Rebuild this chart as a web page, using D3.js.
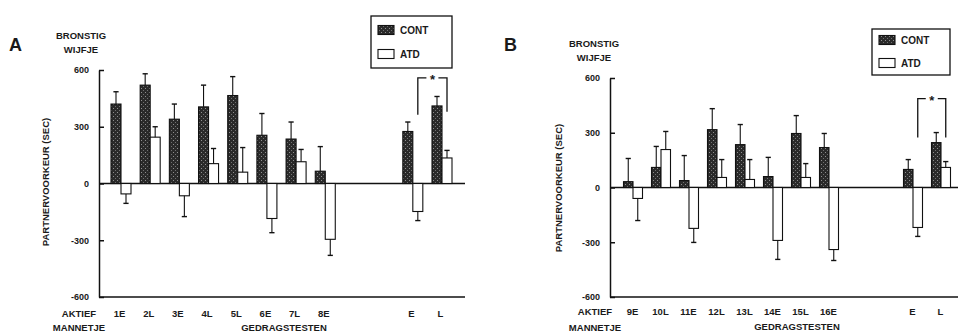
<!DOCTYPE html>
<html>
<head>
<meta charset="utf-8">
<script src="https://cdn.jsdelivr.net/npm/d3@7/dist/d3.min.js"></script>
<style>
  html, body { margin: 0; padding: 0; background: #fff; }
  svg { display: block; }
  text { font-family: "Liberation Sans", Arial, Helvetica, sans-serif; font-weight: bold; fill: #1a1a1a; }
</style>
</head>
<body>
<svg id="chart" width="958" height="334"></svg>
<script>
// ---------- DATA ----------
const categoriesA = ["1E", "2L", "3E", "4L", "5L", "6E", "7L", "8E", "E", "L"];
const contA       = [420, 520, 340, 405, 465, 255, 235, 65, 275, 410];
const contErrA    = [65, 60, 80, 115, 100, 115, 90, 130, 50, 50];
const atdA        = [-55, 245, -65, 105, 60, -185, 115, -295, -148, 135];
const atdErrA     = [50, 55, 110, 80, 130, 75, 65, 85, 48, 40];

const categoriesB = ["9E", "10L", "11E", "12L", "13L", "14E", "15L", "16E", "E", "L"];
const contB       = [32, 110, 38, 317, 235, 60, 296, 219, 99, 246];
const contErrB    = [127, 115, 137, 115, 110, 105, 98, 77, 54, 55];
const atdB        = [-60, 208, -224, 55, 44, -290, 55, -340, -219, 110];
const atdErrB     = [121, 99, 77, 98, 109, 104, 76, 60, 49, 32];

const yTicks = [-600, -300, 0, 300, 600];
const seriesNames = ["CONT", "ATD"];
const yTitle = "PARTNERVOORKEUR (SEC)";
const femaleLabel = ["BRONSTIG", "WIJFJE"];
const maleLabel = ["AKTIEF", "MANNETJE"];
const xTitle = "GEDRAGSTESTEN";
// significance bracket between ATD "E" and ATD "L" (top value, left foot, right foot)
const bracketA = { from: "E", to: "L", top: 558, leftFoot: 363, rightFoot: 379, label: "*" };
const bracketB = { from: "E", to: "L", top: 487, leftFoot: 274, rightFoot: 274, label: "*" };

// ---------- DRAW ----------
const svg = d3.select("#chart");
const defs = svg.append("defs");
const pat = defs.append("pattern").attr("id", "speckle")
  .attr("patternUnits", "userSpaceOnUse").attr("width", 4).attr("height", 4);
pat.append("rect").attr("width", 4).attr("height", 4).attr("fill", "#2a2a2a");
pat.append("rect").attr("x", 1).attr("y", 0).attr("width", 1).attr("height", 1).attr("fill", "#8f8f8f");
pat.append("rect").attr("x", 3).attr("y", 2).attr("width", 1).attr("height", 1).attr("fill", "#707070");

function drawPanel(cfg) {
  const g = svg.append("g");
  const cats = cfg.cats;
  const slots = cats.slice(0, 8).concat(["_gap1", "_gap2"], cats.slice(8));
  const x = d3.scalePoint().domain(slots).range(cfg.xRange);
  const y = d3.scaleLinear().domain([-600, 600]).range(cfg.yRange);
  const bw = cfg.barW;

  // y axis (ticks pointing inward)
  const yAxis = d3.axisLeft(y).tickValues(yTicks).tickFormat(d => String(d))
    .tickSizeInner(-5).tickSizeOuter(0).tickPadding(10);
  const ya = g.append("g").attr("transform", `translate(${cfg.axisX},0)`).call(yAxis);
  ya.selectAll("path, line").attr("stroke", "#111").attr("stroke-width", 1.5);
  ya.selectAll("text").style("font-size", "9px").style("font-family", "Liberation Sans, Arial, sans-serif")
    .style("font-weight", "bold").attr("fill", "#1a1a1a");

  // bottom line and zero line
  g.append("line").attr("x1", cfg.axisX).attr("x2", cfg.rightEnd)
    .attr("y1", y(-600)).attr("y2", y(-600)).attr("stroke", "#111").attr("stroke-width", 1.6);
  g.append("line").attr("x1", cfg.axisX).attr("x2", cfg.rightEnd)
    .attr("y1", y(0)).attr("y2", y(0)).attr("stroke", "#111").attr("stroke-width", 1.3);

  // x category labels
  const xAxis = d3.axisBottom(x).tickValues(cats).tickSize(0).tickPadding(0);
  const xa = g.append("g").attr("transform", `translate(${cfg.labelDX},${cfg.catLabelY})`).call(xAxis);
  xa.select(".domain").remove();
  xa.selectAll("text").attr("dy", 0).style("font-size", "9.5px")
    .style("font-family", "Liberation Sans, Arial, sans-serif").style("font-weight", "bold").attr("fill", "#1a1a1a");

  const rows = cats.map((c, i) => ({ c, cont: cfg.cont[i], ce: cfg.contErr[i], atd: cfg.atd[i], ae: cfg.atdErr[i] }));

  function bars(key, errKey, offset, fill) {
    const sel = g.append("g");
    sel.selectAll("rect").data(rows).join("rect")
      .attr("x", d => x(d.c) + offset)
      .attr("y", d => y(Math.max(0, d[key])))
      .attr("width", bw)
      .attr("height", d => Math.abs(y(d[key]) - y(0)))
      .attr("fill", fill).attr("stroke", "#111").attr("stroke-width", 1.1);
    const eb = sel.selectAll("g.err").data(rows).join("g").attr("class", "err");
    eb.append("line")
      .attr("x1", d => x(d.c) + offset + bw / 2).attr("x2", d => x(d.c) + offset + bw / 2)
      .attr("y1", d => y(d[key])).attr("y2", d => y(d[key] + Math.sign(d[key]) * d[errKey]))
      .attr("stroke", "#111").attr("stroke-width", 1.1);
    eb.append("line")
      .attr("x1", d => x(d.c) + offset + bw / 2 - 2.6).attr("x2", d => x(d.c) + offset + bw / 2 + 2.6)
      .attr("y1", d => y(d[key] + Math.sign(d[key]) * d[errKey]))
      .attr("y2", d => y(d[key] + Math.sign(d[key]) * d[errKey]))
      .attr("stroke", "#111").attr("stroke-width", 1.4);
  }
  bars("cont", "ce", -bw, "url(#speckle)");
  bars("atd", "ae", 0, "#fff");

  // significance bracket
  const br = cfg.bracket;
  const bx1 = x(br.from) + bw / 2, bx2 = x(br.to) + bw / 2, bmid = (bx1 + bx2) / 2;
  const bg = g.append("g").attr("stroke", "#111").attr("stroke-width", 1.3).attr("fill", "none");
  bg.append("path").attr("d", `M${bx1},${y(br.leftFoot)}V${y(br.top)}H${bmid - 6}`);
  bg.append("path").attr("d", `M${bx2},${y(br.rightFoot)}V${y(br.top)}H${bmid + 6}`);
  g.append("text").attr("x", bmid).attr("y", y(br.top) + 6).attr("text-anchor", "middle")
    .style("font-size", "13px").text(br.label);

  // panel letter
  g.append("text").attr("x", cfg.letterX).attr("y", 51).style("font-size", "18px").text(cfg.letter);

  // female label
  g.append("text").attr("x", cfg.femaleX).attr("y", cfg.femaleY).attr("text-anchor", "middle")
    .style("font-size", "9.5px").text(femaleLabel[0]);
  g.append("text").attr("x", cfg.femaleX).attr("y", cfg.femaleY + 14).attr("text-anchor", "middle")
    .style("font-size", "9.5px").text(femaleLabel[1]);

  // y title
  g.append("text").attr("transform", `translate(${cfg.yTitleX},${cfg.yTitleY}) rotate(-90)`)
    .attr("text-anchor", "middle").style("font-size", "9.5px").text(yTitle);

  // male labels
  g.append("text").attr("x", cfg.maleX).attr("y", cfg.catLabelY).attr("text-anchor", "middle")
    .style("font-size", "9.5px").text(maleLabel[0]);
  g.append("text").attr("x", cfg.maleX).attr("y", 331).attr("text-anchor", "middle")
    .style("font-size", "9.5px").text(maleLabel[1]);

  // x title
  g.append("text").attr("x", cfg.xTitleX).attr("y", cfg.xTitleY).attr("text-anchor", "middle")
    .style("font-size", "9.5px").text(xTitle);

  // legend
  const L = cfg.legend;
  g.append("rect").attr("x", L.x).attr("y", L.y).attr("width", L.w).attr("height", L.h)
    .attr("fill", "#fff").attr("stroke", "#111").attr("stroke-width", 1.3);
  const fills = ["url(#speckle)", "#fff"];
  seriesNames.forEach((s, i) => {
    const yy = L.y + L.row0 + i * L.rowGap;
    g.append("rect").attr("x", L.x + 7).attr("y", yy - 4.5).attr("width", 16).attr("height", 9)
      .attr("fill", fills[i]).attr("stroke", "#111").attr("stroke-width", 1.1);
    g.append("text").attr("x", L.x + 29).attr("y", yy + 4).style("font-size", "10px").text(s);
  });
}

drawPanel({
  letter: "A", letterX: 9,
  cats: categoriesA, cont: contA, contErr: contErrA, atd: atdA, atdErr: atdErrA,
  xRange: [121, 442], yRange: [297, 70], barW: 10, axisX: 99, rightEnd: 465,
  labelDX: -2, catLabelY: 317,
  femaleX: 81, femaleY: 39, yTitleX: 49, yTitleY: 182,
  maleX: 79, xTitleX: 284, xTitleY: 331,
  bracket: bracketA,
  legend: { x: 371, y: 16, w: 81, h: 52, row0: 14, rowGap: 24 }
});

drawPanel({
  letter: "B", letterX: 504,
  cats: categoriesB, cont: contB, contErr: contErrB, atd: atdB, atdErr: atdErrB,
  xRange: [633, 941], yRange: [297, 78], barW: 9.5, axisX: 610, rightEnd: 958,
  labelDX: -1, catLabelY: 315,
  femaleX: 594, femaleY: 47, yTitleX: 562, yTitleY: 188,
  maleX: 595, xTitleX: 797, xTitleY: 330,
  bracket: bracketB,
  legend: { x: 872, y: 29, w: 78, h: 46, row0: 11, rowGap: 23 }
});
</script>
</body>
</html>
